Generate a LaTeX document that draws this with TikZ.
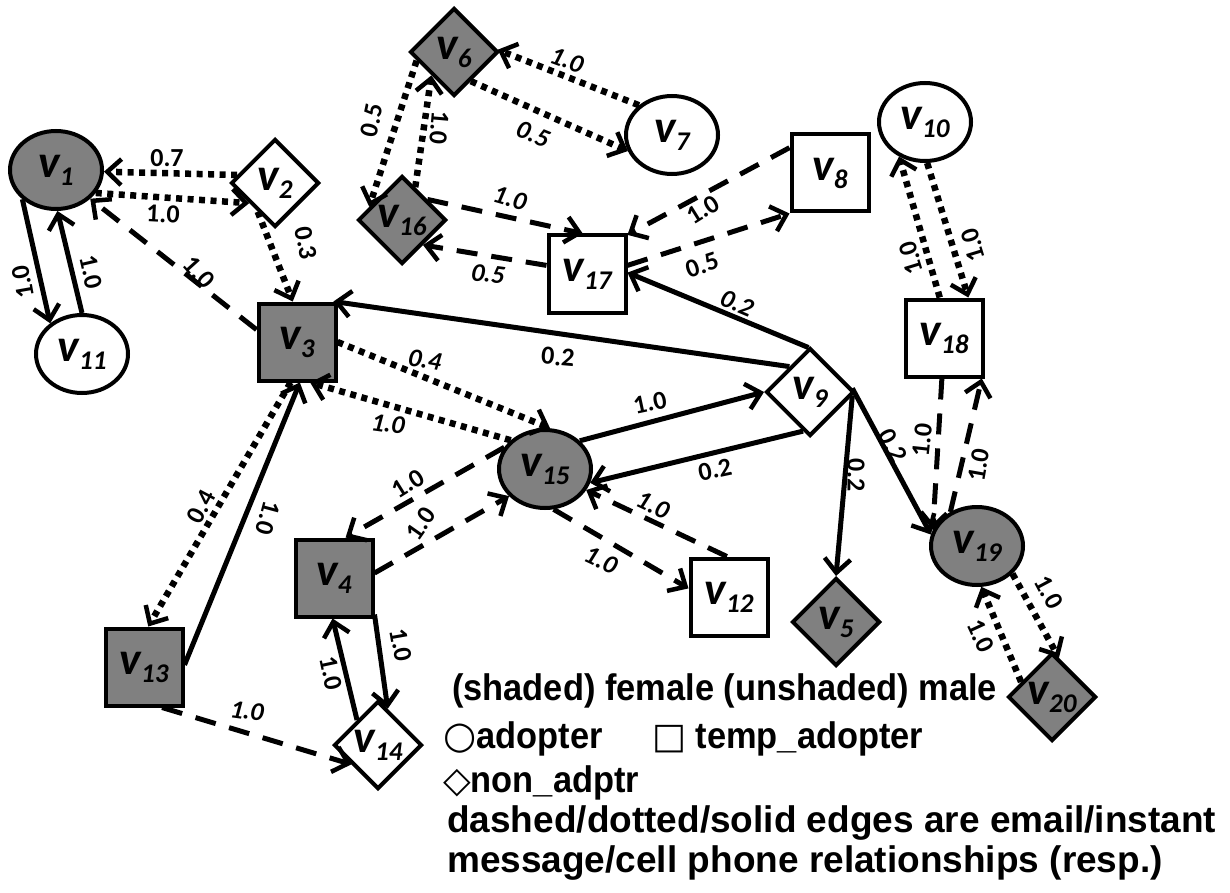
\documentclass[tikz,border=0pt]{standalone}
\usepackage{fontspec}
\setmainfont{Carlito}
\newfontfamily\legfont{Liberation Sans}
\newfontfamily\symfont{DejaVu Sans}
\usetikzlibrary{shapes.geometric,arrows.meta}
\newcommand\vl[1]{{\fontsize{46}{46}\selectfont\bfseries\itshape v\raisebox{-8pt}{\fontsize{27}{27}\selectfont #1}}}
\tikzset{
  nd/.style={draw=black,line width=4pt,inner sep=0pt,fill=white},
  circ/.style={nd,ellipse,minimum width=92pt,minimum height=78pt},
  sq/.style={nd,rectangle,minimum width=77pt,minimum height=77pt},
  dia/.style={nd,diamond,minimum width=88pt,minimum height=88pt},
  fem/.style={fill=gray},
  ar/.style={-{Straight Barb[length=14pt,width=26pt,line width=4.5pt]}},
  sol/.style={line width=5pt,ar},
  dsh/.style={line width=5pt,dash pattern=on 21pt off 14pt,ar},
  dot/.style={line width=6.5pt,dash pattern=on 6pt off 5.5pt,ar},
  lbl/.style={inner sep=0pt,font=\fontsize{26}{26}\selectfont\bfseries},
  leg/.style={inner sep=0pt,anchor=base west,font=\legfont\bfseries\fontsize{37}{37}\selectfont}
}
\begin{document}
\begin{tikzpicture}[x=1pt,y=-1pt]
\useasboundingbox (0,0) rectangle (1230,893);
% nodes
\node[circ,fem] (v1) at (56,170) {\vl{1}};
\node[dia] (v2) at (275,183) {\vl{2}};
\node[sq,fem] (v3) at (297,342) {\vl{3}};
\node[sq,fem] (v4) at (334,578) {\vl{4}};
\node[dia,fem] (v5) at (836,622) {\vl{5}};
\node[dia,fem] (v6) at (454,52) {\vl{6}};
\node[circ] (v7) at (672,135) {\vl{7}};
\node[sq] (v8) at (830,173) {\vl{8}};
\node[dia] (v9) at (810,392) {\vl{9}};
\node[circ] (v10) at (925,122) {\vl{10}};
\node[circ] (v11) at (82,354) {\vl{11}};
\node[sq] (v12) at (729,597) {\vl{12}};
\node[sq,fem] (v13) at (144,667) {\vl{13}};
\node[dia] (v14) at (378,745) {\vl{14}};
\node[circ,fem] (v15) at (545,469) {\vl{15}};
\node[dia,fem] (v16) at (402,220) {\vl{16}};
\node[sq] (v17) at (587,274) {\vl{17}};
\node[sq] (v18) at (944,338) {\vl{18}};
\node[circ,fem] (v19) at (977,546) {\vl{19}};
\node[dia,fem] (v20) at (1052,697) {\vl{20}};
% edges
\draw[dot] (v2.168) -- (v1.-2);
\draw[dot] (v1.-30) -- (v2.-142);
\draw[dsh] (v3.163) -- (v1.-40);
\draw[dot] (v2.-121) -- (v3.96);
\draw[sol] (v1.-139) -- (v11.136);
\draw[sol] (v11.90) -- (v1.-88);
\draw[dot] (v6.-167) -- (v16.158);
\draw[dot] (v16.68) -- (v6.-134);
\draw[dot] (v7.138) -- (v6.3);
\draw[dot] (v6.-60) -- (v7.-160);
\draw[dsh] (v16.39) -- (v17.96);
\draw[dsh] (v17.168) -- (v16.-50);
\draw[dsh] (v8.148) -- (v17.44);
\draw[dsh] (v17.12) -- (v8.-135);
\draw[sol] (v9.92) -- (v17.2);
\draw[sol] (v9.129) -- (v3.48);
\draw[dot] (v3.0) -- (v15.83);
\draw[dot] (v15.140) -- (v3.-72);
\draw[sol] (v15.39) -- (v9.180);
\draw[sol] (v9.-100) -- (v15.-17);
\draw[sol] (v13.3) -- (v3.-86);
\draw[dot] (v3.-99) -- (v13.84);
\draw[dsh] (v15.152) -- (v4.74);
\draw[dsh] (v4.7) -- (v15.-143);
\draw[dsh] (v15.-78) -- (v12.168);
\draw[dsh] (v12.93) -- (v15.-27);
\draw[sol] (v4.-42) -- (v14.75);
\draw[sol] (v14.130) -- (v4.-92);
\draw[dsh] (v13.-66) -- (v14.-144);
\draw[sol] (v9.-5) -- (v5.90);
\draw[sol] (v9.5) -- (v19.166);
\draw[dsh] (v18.-93) -- (v19.160);
\draw[dsh] (v19.128) -- (v18.-47);
\draw[dot] (v10.-87) -- (v18.59);
\draw[dot] (v18.96) -- (v10.-127);
\draw[dot] (v19.-38) -- (v20.80);
\draw[dot] (v20.154) -- (v19.-84);
% edge labels
\node[lbl] (l1) at (167,158) {0.7};
\node[lbl,rotate=-3] (l2) at (163,214) {1.0};
\node[lbl,rotate=-48] (l3) at (199,272) {1.0};
\node[lbl,rotate=-80] (l4) at (306,243) {0.3};
\node[lbl,rotate=100] (l5) at (23,282) {1.0};
\node[lbl,rotate=-77] (l6) at (91,272) {1.0};
\node[lbl,rotate=78] (l7) at (372,120) {0.5};
\node[lbl,rotate=-95] (l8) at (439,128) {1.0};
\node[lbl,rotate=-20] (l9) at (567,60) {\itshape 1.0};
\node[lbl,rotate=-22] (l10) at (533,134) {\itshape 0.5};
\node[lbl,rotate=-16] (l11) at (510,198) {\itshape 1.0};
\node[lbl,rotate=-8] (l12) at (488,274) {\itshape 0.5};
\node[lbl,rotate=32] (l13) at (703,210) {1.0};
\node[lbl,rotate=18] (l14) at (702,265) {0.5};
\node[lbl,rotate=-23] (l15) at (737,303) {\itshape 0.2};
\node[lbl,rotate=-5] (l16) at (558,357) {0.2};
\node[lbl,rotate=-10] (l17) at (425,360) {\itshape 0.4};
\node[lbl,rotate=-8] (l18) at (388,424) {\itshape 1.0};
\node[lbl,rotate=12] (l19) at (650,403) {1.0};
\node[lbl,rotate=12] (l20) at (715,470) {0.2};
\node[lbl,rotate=-105] (l21) at (268,518) {1.0};
\node[lbl,rotate=62] (l22) at (201,507) {0.4};
\node[lbl,rotate=32] (l23) at (408,484) {1.0};
\node[lbl,rotate=55] (l24) at (421,524) {1.0};
\node[lbl,rotate=-25] (l25) at (601,560) {\itshape 1.0};
\node[lbl,rotate=-25] (l26) at (653,505) {\itshape 1.0};
\node[lbl,rotate=-80] (l27) at (401,645) {1.0};
\node[lbl,rotate=-78] (l28) at (331,673) {1.0};
\node[lbl,rotate=-8] (l29) at (247,711) {\itshape 1.0};
\node[lbl,rotate=-90] (l30) at (856,475) {0.2};
\node[lbl,rotate=-63] (l31) at (893,446) {0.2};
\node[lbl,rotate=84] (l32) at (922,440) {1.0};
\node[lbl,rotate=80] (l33) at (979,465) {1.0};
\node[lbl,rotate=107] (l34) at (911,258) {1.0};
\node[lbl,rotate=107] (l35) at (973,245) {1.0};
\node[lbl,rotate=-62] (l36) at (1049,592) {1.0};
\node[lbl,rotate=-65] (l37) at (981,636) {1.0};
% legend
\node[leg] (t1) at (452,700) {\scalebox{0.93}[1]{(shaded) female (unshaded) male}};
\node[leg] (t2) at (443,748) {{\symfont\fontsize{38}{38}\selectfont ○}\scalebox{0.93}[1]{adopter}};
\node[leg] (t3) at (652,748) {{\symfont\fontsize{36}{36}\selectfont □}\scalebox{0.93}[1]{ temp\_adopter}};
\node[leg] (t4) at (443,792) {{\symfont\fontsize{36}{36}\selectfont ◇}\scalebox{0.93}[1]{non\_adptr}};
\node[leg] (t5) at (447,832) {dashed/dotted/solid edges are email/instant};
\node[leg] (t6) at (447,872) {message/cell phone relationships (resp.)};
\end{tikzpicture}
\end{document}
